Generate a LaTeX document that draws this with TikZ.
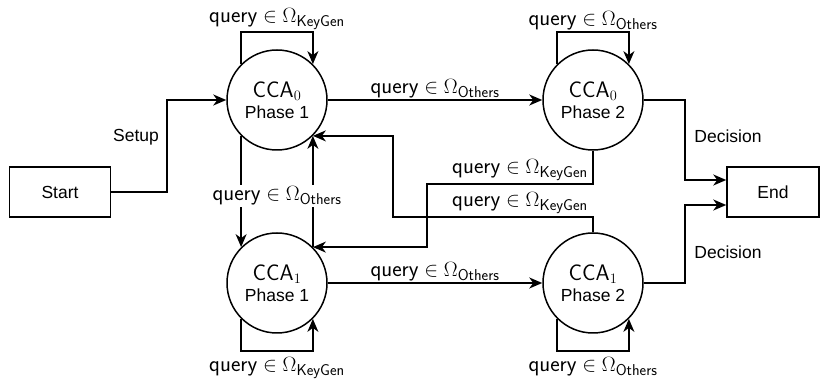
\documentclass[tikz,border=0pt]{standalone}
\usepackage{fontspec}
\newfontfamily\arial{Liberation Sans}
\usetikzlibrary{arrows.meta,calc}
\newcommand\qKey{$\mathsf{query}\in\Omega_{\mathsf{KeyGen}}$}
\newcommand\qOth{$\mathsf{query}\in\Omega_{\mathsf{Others}}$}
\begin{document}
\begin{tikzpicture}[x=1pt,y=-1pt,
  line width=1.5pt,
  arr/.style={-{Stealth[length=13pt,width=11pt,inset=4pt]}},
  state/.style={circle,draw,minimum size=100pt,inner sep=0pt,align=center,
    font=\arial\fontsize{17.5}{21}\selectfont},
  term/.style={rectangle,draw,minimum width=101pt,minimum height=50pt,inner sep=0pt,
    font=\arial\fontsize{17.5}{21}\selectfont},
  word/.style={font=\arial\fontsize{17.5}{21}\selectfont,inner sep=2pt},
  qry/.style={font=\fontsize{22.5}{24}\selectfont,inner sep=1.5pt},
]
\useasboundingbox (0,0) rectangle (820,379);

% states and terminals
\node[term] (start) at (60,192) {Start};
\node[term,minimum width=92pt] (end) at (773,192) {End};
\node[state] (a0) at (277,100) {{\fontsize{22.5}{21}\selectfont$\mathsf{CCA}_0$}\\Phase 1};
\node[state] (b0) at (593,100) {{\fontsize{22.5}{21}\selectfont$\mathsf{CCA}_0$}\\Phase 2};
\node[state] (a1) at (277,283) {{\fontsize{22.5}{21}\selectfont$\mathsf{CCA}_1$}\\Phase 1};
\node[state] (b1) at (593,283) {{\fontsize{22.5}{21}\selectfont$\mathsf{CCA}_1$}\\Phase 2};

% bend points
\coordinate (sx) at (167,100);
\coordinate (c1) at (427,184);
\coordinate (c2) at (393,217);
\coordinate (e0) at ([yshift=12pt]end.west);
\coordinate (e1) at ([yshift=-13pt]end.west);

% setup
\draw[arr] (start.east) -| (sx) -- (a0.west);
\node[word] (setup) at (136,137) {Setup};

% self loops
\draw[arr] (a0.135) -- ++(0,-32) -| node[qry,pos=0.25,above] (la0) {\qKey} (a0.45);
\draw[arr] (b0.135) -- ++(0,-32) -| node[qry,pos=0.25,above] (lb0) {\qOth} (b0.45);
\draw[arr] (a1.-135) -- ++(0,32) -| node[qry,pos=0.25,below=4pt] (la1) {\qKey} (a1.-45);
\draw[arr] (b1.-135) -- ++(0,32) -| node[qry,pos=0.25,below=4pt] (lb1) {\qOth} (b1.-45);

% phase 1 -> phase 2
\draw[arr] (a0.east) -- node[qry,above] (lt) {\qOth} (b0.west);
\draw[arr] (a1.east) -- node[qry,above] (lbm) {\qOth} (b1.west);

% between the two phase-1 states
\draw[arr] (a0.-135) -- (a1.135);
\draw[arr] (a1.45) -- (a0.-45);
\node[qry,fill=white] (lmid) at (277,196) {\qOth};

% phase 2 back to phase 1
\draw[arr] (b0.south) |- (c1) |- (a1.45);
\draw[arr] (b1.north) |- (c2) |- (a0.-45);
\node[qry] (lk0) at (520,170) {\qKey};
\node[qry] (lk1) at (520,203) {\qKey};

% decisions
\draw[arr] (b0.east) -- ++(41,0) |- (e0);
\draw[arr] (b1.east) -- ++(41,0) |- (e1);
\node[word] (d0) at (728,136) {Decision};
\node[word] (d1) at (728,252) {Decision};
\end{tikzpicture}
\end{document}
